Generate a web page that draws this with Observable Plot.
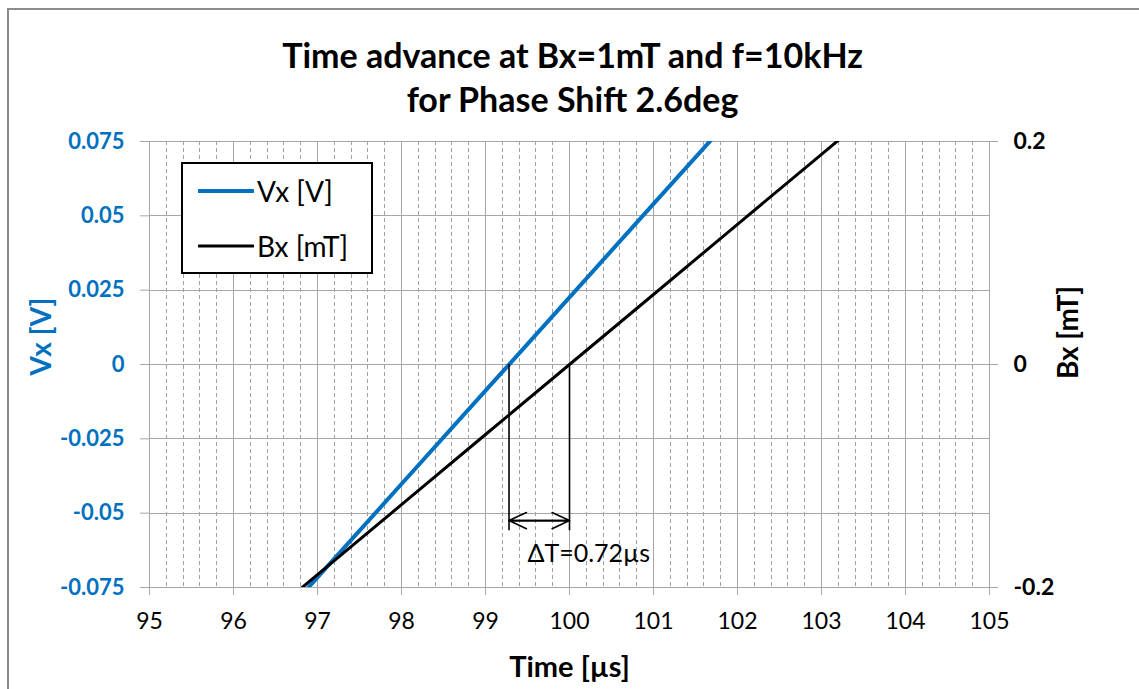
<!DOCTYPE html>
<html><head><meta charset="utf-8">
<script src="https://cdn.jsdelivr.net/npm/d3@7"></script>
<script src="https://cdn.jsdelivr.net/npm/@observablehq/plot@0.6"></script>
<style>
body{margin:0;background:#fff;font-family:Lato,sans-serif;}
#wrap{position:relative;width:1139px;height:689px;overflow:hidden;}
#chart{position:absolute;left:0;top:0;}
#frame{position:absolute;left:7px;top:8px;width:1300px;height:900px;border-left:2px solid #8c8c8c;border-top:2px solid #8c8c8c;pointer-events:none;}
#legend{position:absolute;left:181px;top:162px;width:188px;height:108px;border:2px solid #000;background:#fff;font-family:Lato,sans-serif;font-size:28px;color:#000;}
#legend .item{position:absolute;left:15px;height:30px;display:flex;align-items:center;}
#legend .sw{width:56px;margin-right:3px;}
</style></head><body>
<div id="wrap">
  <div id="chart"></div>
  <div id="frame"></div>
  <div id="legend"></div>
</div>
<script>
// Tick labels
const timeTicks = [95, 96, 97, 98, 99, 100, 101, 102, 103, 104, 105];
const vxTicks = [-0.075, -0.05, -0.025, 0, 0.025, 0.05, 0.075];
const bxTicks = [-0.2, 0, 0.2];

// Series: Vx [V] vs time [µs]
const vxTime  = [96.7, 97, 98, 99, 100, 101, 101.8];
const vxValue = [-0.0810, -0.0716, -0.0402, -0.0088, 0.0226, 0.0540, 0.0791];
// Series: Bx [mT] vs time [µs]
const bxTime  = [96.6, 97, 98, 99, 100, 101, 102, 103, 103.4];
const bxValue = [-0.2136, -0.1885, -0.1257, -0.0628, 0, 0.0628, 0.1257, 0.1885, 0.2136];

// Annotation (ΔT between zero crossings)
const deltaStart = 99.28;
const deltaEnd = 100;
const deltaLabel = "ΔT=0.72µs";

const seriesNames = ["Vx [V]", "Bx [mT]"];
const seriesColors = ["#0070c0", "#000000"];
const titleLines = ["Time advance at Bx=1mT and f=10kHz", "for Phase Shift 2.6deg"];

// secondary axis mapping: Bx range [-0.2,0.2] onto Vx range [-0.075,0.075]
const bScale = 0.075 / 0.2;
const vxData = vxTime.map((t, i) => ({t, v: vxValue[i]}));
const bxData = bxTime.map((t, i) => ({t, v: bxValue[i] * bScale}));
const minorTicks = d3.range(950, 1051, 2).map(d => d / 10).filter(d => !Number.isInteger(d));

const chart = Plot.plot({
  width: 1139, height: 689,
  marginLeft: 149, marginRight: 150, marginTop: 141, marginBottom: 102,
  style: {fontFamily: "Lato, sans-serif", background: "transparent", overflow: "visible"},
  x: {domain: [95, 105]},
  y: {domain: [-0.075, 0.075]},
  marks: [
    Plot.ruleX(minorTicks, {stroke: "#a0a0a0", strokeDasharray: "4,3", shapeRendering: "crispEdges"}),
    Plot.ruleY(vxTicks, {stroke: "#a6a6a6", shapeRendering: "crispEdges"}),
    Plot.ruleX(timeTicks, {stroke: "#a6a6a6", shapeRendering: "crispEdges"}),
    Plot.axisX(timeTicks, {tickSize: 8, tickPadding: 17, stroke: "#a6a6a6", fill: "#000", fontSize: 23, label: null, tickFormat: d => String(d)}),
    Plot.axisY(vxTicks, {anchor: "left", tickSize: 9, tickPadding: 16, stroke: "#a6a6a6", fill: seriesColors[0], fontSize: 22, fontWeight: "bold", label: null, tickFormat: d => String(d)}),
    Plot.axisY(bxTicks.map(b => b * bScale), {anchor: "right", tickSize: 8, tickPadding: 16, stroke: "#a6a6a6", fill: "#000", fontSize: 23, fontWeight: "bold", label: null, tickFormat: d => String(+(d / bScale).toFixed(2))}),
    Plot.line(vxData, {x: "t", y: "v", stroke: seriesColors[0], strokeWidth: 4, clip: true}),
    Plot.line(bxData, {x: "t", y: "v", stroke: seriesColors[1], strokeWidth: 3, clip: true}),
    Plot.ruleX([deltaStart, deltaEnd], {y1: 0, y2: -0.0559, stroke: "#000", strokeWidth: 1.6}),
    Plot.arrow([{a: deltaStart, b: deltaEnd}, {a: deltaEnd, b: deltaStart}], {x1: "a", x2: "b", y1: -0.0525, y2: -0.0525, stroke: "#000", strokeWidth: 1.6, headLength: 18, headAngle: 50}),
    Plot.text([deltaLabel], {text: d => d, x: 100.23, y: -0.0636, fontSize: 25, fill: "#000", textAnchor: "middle"}),
    Plot.text([titleLines[0]], {text: d => d, frameAnchor: "top", dx: 3, dy: -84, fontSize: 34, fontWeight: "bold", fill: "#000", lineAnchor: "middle"}),
    Plot.text([titleLines[1]], {text: d => d, frameAnchor: "top", dx: 3, dy: -40, fontSize: 34, fontWeight: "bold", fill: "#000", lineAnchor: "middle"}),
    Plot.text(["Time [µs]"], {text: d => d, frameAnchor: "bottom", dy: 80, fontSize: 29, fontWeight: "bold", fill: "#000", lineAnchor: "middle"}),
    Plot.text(["Vx [V]"], {text: d => d, frameAnchor: "left", textAnchor: "middle", dx: -107, dy: -28, rotate: -90, fontSize: 28, fontWeight: "bold", fill: seriesColors[0], lineAnchor: "middle"}),
    Plot.text(["Bx [mT]"], {text: d => d, frameAnchor: "right", textAnchor: "middle", dx: 80, dy: -32, rotate: -90, fontSize: 28, fontWeight: "bold", fill: "#000", lineAnchor: "middle"})
  ]
});
document.getElementById("chart").appendChild(chart);

// Legend
const legend = document.getElementById("legend");
seriesNames.forEach((name, i) => {
  const item = document.createElement("div");
  item.className = "item";
  item.style.top = (i === 0 ? 12 : 67) + "px";
  item.innerHTML = `<svg class="sw" width="56" height="10"><line x1="1" y1="5" x2="55" y2="5" stroke="${seriesColors[i]}" stroke-width="${i === 0 ? 4 : 3}" stroke-linecap="round"/></svg><span>${name}</span>`;
  legend.appendChild(item);
});
</script>
</body></html>
